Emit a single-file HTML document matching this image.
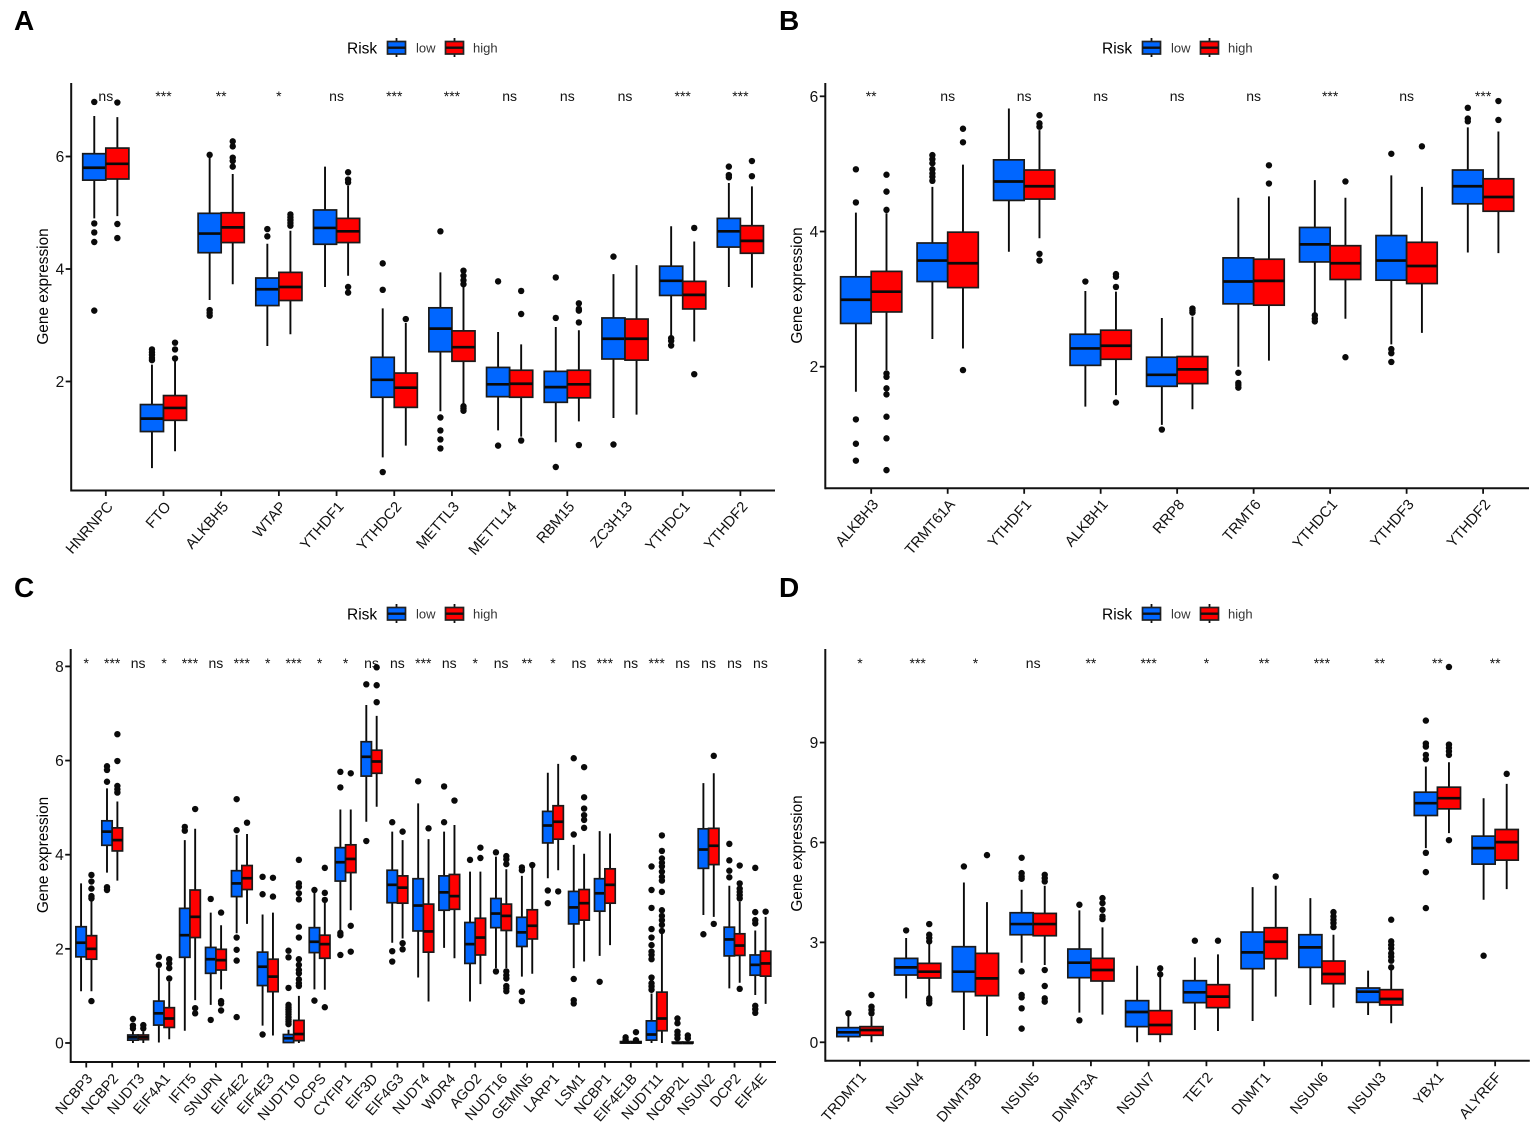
<!DOCTYPE html>
<html lang="en">
<head>
<meta charset="utf-8">
<title>Gene expression by risk group</title>
<style>
html,body{margin:0;padding:0;background:#fff}
svg{display:block;font-family:"Liberation Sans",Arial,sans-serif;filter:blur(0.3px)}
</style>
</head>
<body>
<svg id="figure" width="1535" height="1132" viewBox="0 0 1535 1132" xmlns="http://www.w3.org/2000/svg">
<rect width="1535" height="1132" fill="#fff"/>
<text x="14" y="30" font-size="28" font-weight="700">A</text>
<text x="779" y="30" font-size="28" font-weight="700">B</text>
<text x="14" y="597" font-size="28" font-weight="700">C</text>
<text x="779" y="597" font-size="28" font-weight="700">D</text>

<g transform="translate(0,0)">
<text x="347" y="53.5" font-size="15.5">Risk</text>
<g><path d="M396.5 38V57" stroke="#111" stroke-width="1.8"/><rect x="387.5" y="41.5" width="18" height="12.5" fill="#0066ff" stroke="#222" stroke-width="1.7"/><path d="M387.5 47.7H405.5" stroke="#111" stroke-width="2.4"/></g>
<text x="416" y="52.5" font-size="13" fill="#333">low</text>
<g><path d="M454.5 38V57" stroke="#111" stroke-width="1.8"/><rect x="445.5" y="41.5" width="18" height="12.5" fill="#ff0000" stroke="#222" stroke-width="1.7"/><path d="M445.5 47.7H463.5" stroke="#111" stroke-width="2.4"/></g>
<text x="473" y="52.5" font-size="13" fill="#333">high</text>
</g>
<g transform="translate(755,0)">
<text x="347" y="53.5" font-size="15.5">Risk</text>
<g><path d="M396.5 38V57" stroke="#111" stroke-width="1.8"/><rect x="387.5" y="41.5" width="18" height="12.5" fill="#0066ff" stroke="#222" stroke-width="1.7"/><path d="M387.5 47.7H405.5" stroke="#111" stroke-width="2.4"/></g>
<text x="416" y="52.5" font-size="13" fill="#333">low</text>
<g><path d="M454.5 38V57" stroke="#111" stroke-width="1.8"/><rect x="445.5" y="41.5" width="18" height="12.5" fill="#ff0000" stroke="#222" stroke-width="1.7"/><path d="M445.5 47.7H463.5" stroke="#111" stroke-width="2.4"/></g>
<text x="473" y="52.5" font-size="13" fill="#333">high</text>
</g>
<g transform="translate(0,566)">
<text x="347" y="53.5" font-size="15.5">Risk</text>
<g><path d="M396.5 38V57" stroke="#111" stroke-width="1.8"/><rect x="387.5" y="41.5" width="18" height="12.5" fill="#0066ff" stroke="#222" stroke-width="1.7"/><path d="M387.5 47.7H405.5" stroke="#111" stroke-width="2.4"/></g>
<text x="416" y="52.5" font-size="13" fill="#333">low</text>
<g><path d="M454.5 38V57" stroke="#111" stroke-width="1.8"/><rect x="445.5" y="41.5" width="18" height="12.5" fill="#ff0000" stroke="#222" stroke-width="1.7"/><path d="M445.5 47.7H463.5" stroke="#111" stroke-width="2.4"/></g>
<text x="473" y="52.5" font-size="13" fill="#333">high</text>
</g>
<g transform="translate(755,566)">
<text x="347" y="53.5" font-size="15.5">Risk</text>
<g><path d="M396.5 38V57" stroke="#111" stroke-width="1.8"/><rect x="387.5" y="41.5" width="18" height="12.5" fill="#0066ff" stroke="#222" stroke-width="1.7"/><path d="M387.5 47.7H405.5" stroke="#111" stroke-width="2.4"/></g>
<text x="416" y="52.5" font-size="13" fill="#333">low</text>
<g><path d="M454.5 38V57" stroke="#111" stroke-width="1.8"/><rect x="445.5" y="41.5" width="18" height="12.5" fill="#ff0000" stroke="#222" stroke-width="1.7"/><path d="M445.5 47.7H463.5" stroke="#111" stroke-width="2.4"/></g>
<text x="473" y="52.5" font-size="13" fill="#333">high</text>
</g>

<text transform="translate(48,286.5) rotate(-90)" text-anchor="middle" font-size="15.4">Gene expression</text>
<text transform="translate(802,285.5) rotate(-90)" text-anchor="middle" font-size="15.4">Gene expression</text>
<text transform="translate(48,855) rotate(-90)" text-anchor="middle" font-size="15.4">Gene expression</text>
<text transform="translate(802,853.5) rotate(-90)" text-anchor="middle" font-size="15.4">Gene expression</text>

<g id="panel-a"></g>
<g id="panel-b"></g>
<g id="panel-c"></g>
<g id="panel-d"></g>
</svg>
<script>
/* Box statistics are [q1, median, q3, whiskerLow, whiskerHigh] in expression units. */

/* Panel A */
const aCategories = ["HNRNPC","FTO","ALKBH5","WTAP","YTHDF1","YTHDC2","METTL3","METTL14","RBM15","ZC3H13","YTHDC1","YTHDF2"];
const aSignificance = ["ns","***","**","*","ns","***","***","ns","ns","ns","***","***"];
const aTicks = [2,4,6];
const aLow = [[5.58,5.80,6.05,4.90,6.72],[1.11,1.34,1.59,0.46,2.30],[4.29,4.63,4.99,3.45,6.00],[3.35,3.64,3.84,2.63,4.45],[4.44,4.73,5.05,3.68,5.82],[1.72,2.03,2.43,0.65,3.30],[2.53,2.94,3.31,1.47,3.94],[1.73,1.95,2.25,1.13,2.88],[1.63,1.90,2.18,0.92,2.97],[2.40,2.76,3.13,1.35,3.91],[3.53,3.79,4.05,2.80,4.76],[4.39,4.67,4.90,3.68,5.53]];
const aHigh = [[5.60,5.87,6.15,4.94,6.70],[1.31,1.53,1.75,0.76,2.36],[4.47,4.74,5.00,3.73,5.69],[3.44,3.68,3.94,2.84,4.68],[4.47,4.67,4.90,3.88,5.48],[1.54,1.89,2.15,0.86,3.04],[2.36,2.61,2.90,1.59,3.69],[1.72,1.96,2.20,1.02,2.66],[1.71,1.95,2.20,1.29,2.91],[2.38,2.76,3.11,1.41,4.07],[3.29,3.54,3.78,2.71,4.49],[4.28,4.50,4.77,3.67,5.47]];
const aLowOutliers = [[6.97,4.81,4.65,4.48,3.26],[2.57,2.52,2.47,2.42,2.38],[6.03,3.27,3.22,3.17],[4.71,4.58],[],[4.10,3.63,0.39],[4.67,1.36,1.13,0.97,0.81],[3.78,0.86],[3.85,3.13,0.48],[4.22,0.88],[2.77,2.72,2.64],[5.82,5.67,5.63]];
const aHighOutliers = [[6.96,4.80,4.55],[2.69,2.57,2.41],[6.27,6.18,5.98,5.92,5.82],[4.97,4.92,4.87,4.82,4.77],[5.72,5.59,5.54,3.68,3.58],[3.11],[3.97,3.88,3.80,3.73,1.56,1.52,1.48],[3.61,3.20,0.95],[3.39,3.29,3.26,3.05,0.87],[],[4.73,2.13],[5.92,5.65]];

/* Panel B */
const bCategories = ["ALKBH3","TRMT61A","YTHDF1","ALKBH1","RRP8","TRMT6","YTHDC1","YTHDF3","YTHDF2"];
const bSignificance = ["**","ns","ns","ns","ns","ns","***","ns","***"];
const bTicks = [2,4,6];
const bLow = [[2.64,2.99,3.33,1.63,4.28],[3.26,3.57,3.83,2.41,4.66],[4.46,4.74,5.06,3.70,5.82],[2.02,2.27,2.48,1.41,3.12],[1.71,1.88,2.14,1.14,2.72],[2.93,3.26,3.61,2.00,4.50],[3.55,3.81,4.06,2.79,4.76],[3.28,3.57,3.94,2.33,4.83],[4.41,4.67,4.91,3.69,5.54]];
const bHigh = [[2.81,3.11,3.41,1.95,4.27],[3.17,3.53,3.99,2.27,4.99],[4.48,4.67,4.91,3.90,5.50],[2.11,2.31,2.54,1.58,3.11],[1.75,1.96,2.15,1.37,2.74],[2.91,3.27,3.59,2.09,4.52],[3.29,3.53,3.79,2.71,4.50],[3.23,3.49,3.84,2.50,4.66],[4.30,4.51,4.78,3.68,5.48]];
const bLowOutliers = [[4.92,4.43,1.22,0.86,0.61],[5.13,5.07,5.01,4.92,4.86,4.81,4.75],[],[3.26],[1.07],[1.91,1.76,1.73,1.69],[2.76,2.71,2.67],[5.15,2.26,2.20,2.07],[5.83,5.67,5.63]];
const bHighOutliers = [[4.84,4.59,4.32,1.90,1.85,1.68,1.59,1.26,0.94,0.47],[5.52,5.32,1.95],[5.72,5.60,5.55,3.67,3.57],[3.37,3.33,3.18,1.47],[2.86,2.83,2.80],[4.98,4.71],[4.74,2.14],[5.26],[5.93,5.65]];

/* Panel C */
const cCategories = ["NCBP3","NCBP2","NUDT3","EIF4A1","IFIT5","SNUPN","EIF4E2","EIF4E3","NUDT10","DCPS","CYFIP1","EIF3D","EIF4G3","NUDT4","WDR4","AGO2","NUDT16","GEMIN5","LARP1","LSM1","NCBP1","EIF4E1B","NUDT11","NCBP2L","NSUN2","DCP2","EIF4E"];
const cSignificance = ["*","***","ns","*","***","ns","***","*","***","*","*","ns","ns","***","ns","*","ns","**","*","ns","***","ns","***","ns","ns","ns","ns"];
const cTicks = [0,2,4,6,8];
const cLow = [[1.83,2.13,2.47,1.10,3.39],[4.20,4.49,4.72,3.62,5.41],[0.06,0.12,0.17,0.00,0.24],[0.38,0.63,0.89,0.01,1.59],[1.82,2.29,2.86,0.26,4.31],[1.48,1.78,2.03,0.81,2.77],[3.11,3.39,3.66,2.33,4.42],[1.22,1.62,1.93,0.37,2.73],[0.01,0.10,0.18,0.00,0.28],[1.92,2.15,2.45,1.14,3.24],[3.44,3.84,4.15,2.40,4.96],[5.67,6.08,6.40,4.70,7.18],[2.98,3.36,3.67,2.13,4.49],[2.38,2.92,3.49,1.39,5.09],[2.82,3.20,3.55,2.02,4.49],[1.69,2.10,2.56,0.88,3.64],[2.45,2.75,3.07,1.59,3.96],[2.05,2.35,2.67,1.41,3.55],[4.25,4.62,4.92,3.50,5.74],[2.53,2.88,3.22,1.59,4.21],[2.80,3.18,3.49,1.85,4.50],[0.00,0.01,0.03,0.00,0.03],[0.06,0.18,0.47,0.00,1.05],[0.00,0.00,0.02,0.00,0.02],[3.71,4.11,4.55,2.72,5.52],[1.85,2.20,2.46,1.16,3.34],[1.44,1.66,1.87,1.02,2.39]];
const cHigh = [[1.78,2.00,2.28,1.10,3.04],[4.08,4.31,4.57,3.45,5.13],[0.07,0.12,0.17,0.00,0.24],[0.33,0.52,0.75,0.08,1.30],[2.24,2.68,3.25,0.91,4.55],[1.55,1.76,1.99,1.14,2.50],[3.26,3.50,3.77,2.53,4.44],[1.09,1.41,1.78,0.16,2.77],[0.05,0.19,0.48,0.00,1.00],[1.80,2.10,2.29,1.13,2.98],[3.62,3.91,4.21,2.82,4.96],[5.73,5.98,6.22,5.02,6.95],[2.97,3.30,3.55,2.22,4.31],[1.93,2.37,2.95,0.88,4.33],[2.84,3.12,3.58,1.80,4.63],[1.87,2.24,2.65,1.25,3.64],[2.39,2.70,2.95,1.59,3.69],[2.21,2.49,2.83,1.47,3.75],[4.33,4.70,5.04,3.67,5.93],[2.61,2.97,3.26,1.73,4.02],[2.97,3.36,3.70,2.08,4.45],[0.00,0.01,0.03,0.00,0.03],[0.26,0.52,1.08,0.00,2.33],[0.00,0.00,0.02,0.00,0.02],[3.79,4.19,4.56,2.68,5.73],[1.86,2.07,2.32,1.28,3.00],[1.42,1.69,1.95,0.83,2.68]];
const cLowOutliers = [[],[5.88,5.80,5.55,3.31,3.25],[0.51,0.37,0.31],[1.83,1.66],[4.59,4.51],[3.06,0.49],[5.18,4.52,2.24,1.98,1.75,0.55],[3.53,3.16,0.18],[1.96,1.82,1.17,0.81,0.76,0.71,0.66,0.61,0.55,0.50,0.45,0.40],[3.25,0.90],[5.76,5.43,2.34,2.29,1.87],[7.62,4.29],[4.69,1.95,1.73],[5.56],[5.45,4.69],[3.89],[4.05,1.52],[3.73,3.67,1.09,0.89],[3.24,2.97],[6.05,4.43,1.36,0.91,0.84],[1.30],[0.12,0.06],[3.75,3.25,2.87,2.42,2.24,2.08,1.94,1.87,1.78,1.39,1.27,1.20,1.13],[0.52,0.42,0.24,0.17,0.10],[2.31],[4.23,3.88,3.66,3.52],[3.72,2.78,2.61,2.54,0.79,0.72,0.64]];
const cHighOutliers = [[3.57,3.43,3.28,3.12,3.07,0.89],[6.56,5.99,5.46,5.39,5.32],[0.38,0.31],[1.78,1.69,1.59,1.37],[4.97,0.74,0.63],[2.77,0.89,0.84,0.69],[4.68],[3.51,3.11],[3.89,3.39,3.32,3.18,3.05,2.47,2.24,1.78,1.66,1.55,1.48,1.35,1.27,1.21],[3.72,3.19,3.04,0.76],[5.73,2.49,1.94],[7.98,7.60,7.24],[4.49,2.12,1.99],[4.56],[5.15],[4.15,3.93],[3.97,3.90,3.80,1.52,1.44,1.37,1.21,1.16,1.10],[3.78],[3.22],[5.86,5.22,4.98,4.84,4.74,4.57],[],[0.23,0.06],[4.41,4.08,3.92,3.83,3.75,3.64,3.53,3.45,3.21,2.82,2.70,2.61,2.51,2.38],[0.16,0.10],[6.10,2.53],[3.77,3.39,3.28,3.21,3.14,3.07,1.15],[2.79]];

/* Panel D */
const dCategories = ["TRDMT1","NSUN4","DNMT3B","NSUN5","DNMT3A","NSUN7","TET2","DNMT1","NSUN6","NSUN3","YBX1","ALYREF"];
const dSignificance = ["*","***","*","ns","**","***","*","**","***","**","**","**"];
const dTicks = [0,3,6,9];
const dLow = [[0.17,0.30,0.44,0.02,0.82],[2.02,2.25,2.52,1.32,3.13],[1.52,2.12,2.87,0.37,4.80],[3.23,3.55,3.89,2.39,4.58],[1.94,2.39,2.80,0.89,3.96],[0.47,0.91,1.25,0.00,2.30],[1.19,1.50,1.85,0.37,2.55],[2.21,2.70,3.31,0.64,4.66],[2.25,2.85,3.23,1.12,4.33],[1.20,1.52,1.63,0.82,2.15],[6.81,7.18,7.51,5.83,8.28],[5.35,5.83,6.19,4.28,7.33]];
const dHigh = [[0.21,0.37,0.47,0.00,0.77],[1.93,2.12,2.37,1.37,2.97],[1.40,1.92,2.67,0.19,4.21],[3.20,3.55,3.87,2.32,4.70],[1.84,2.17,2.52,0.83,3.45],[0.24,0.52,0.95,0.00,1.95],[1.04,1.37,1.73,0.34,2.64],[2.51,3.02,3.44,1.37,4.70],[1.76,2.05,2.44,1.04,3.23],[1.12,1.30,1.58,0.57,2.17],[7.01,7.33,7.66,6.28,8.41],[5.47,6.01,6.39,4.60,7.76]];
const dLowOutliers = [[0.87],[3.36],[5.28],[5.54,5.08,4.98,4.91,2.13,1.42,1.35,1.02,0.41],[4.13,0.66],[],[3.05],[],[],[],[9.66,8.97,8.88,8.63,8.50,5.69,5.11,4.03],[2.60]];
const dHighOutliers = [[1.42,1.07,0.97,0.87],[3.55,3.23,3.13,3.03,1.32,1.25,1.17],[5.62],[5.03,4.93,4.83,2.17,1.69,1.32,1.22],[4.33,4.18,3.98,3.78,3.70],[2.22,2.04],[3.05],[4.98],[3.91,3.78,3.68,3.58,3.46],[3.68,3.03,2.92,2.82,2.67,2.57,2.45,2.25],[11.27,8.94,8.84,8.74,8.63,6.07],[8.06]];

const SVG_NS = "http://www.w3.org/2000/svg";
const LOW_FILL = "#0066ff";
const HIGH_FILL = "#ff0000";

function make(parent, tag, attrs) {
  const node = document.createElementNS(SVG_NS, tag);
  for (const key in attrs) node.setAttribute(key, attrs[key]);
  parent.appendChild(node);
  return node;
}

function linearScale(domain, range) {
  return function (v) {
    return range[0] + (v - domain[0]) * (range[1] - range[0]) / (domain[1] - domain[0]);
  };
}

function drawBox(group, stats, outliers, centre, width, fill, x, y) {
  const q1 = stats[0], med = stats[1], q3 = stats[2], wLow = stats[3], wHigh = stats[4];
  const whisker = make(group, "path", {
    d: "M" + centre + " " + y(wHigh) + "V" + y(q3) + "M" + centre + " " + y(q1) + "V" + y(wLow),
    stroke: "#0a0a0a", "stroke-width": 1.9, fill: "none"
  });
  
  
  const box = make(group, "rect", {
    x: centre - width / 2, y: y(q3), width: width, height: Math.max(y(q1) - y(q3), 0.6),
    fill: fill, stroke: "#1a1a1a", "stroke-width": 1.7
  });
  
  
  const median = make(group, "line", {
    x1: centre - width / 2, x2: centre + width / 2, y1: y(med), y2: y(med),
    stroke: "#0a0a0a", "stroke-width": 2.7
  });
  
  
  outliers.forEach(function (v) {
    const dot = make(group, "circle", { cx: centre, cy: y(v), r: 3.2, fill: "#0a0a0a" });
    
    
  });
}

function drawPanel(id, cfg) {
  const root = document.getElementById(id);
  const n = cfg.categories.length;
  const step = (cfg.right - cfg.left) / (n + 0.2);
  const x = function (i) { return cfg.left + (i + 0.6) * step; };
  const y = linearScale(cfg.domain, [cfg.bottom, cfg.top]);
  const boxWidth = step * 0.4;

  const yAxis = make(root, "line", { x1: cfg.left, x2: cfg.left, y1: cfg.top, y2: cfg.bottom + 1, stroke: "#111", "stroke-width": 2 });
  
  
  const xAxis = make(root, "line", { x1: cfg.left, x2: cfg.right, y1: cfg.bottom, y2: cfg.bottom, stroke: "#111", "stroke-width": 2 });
  
  

  cfg.ticks.forEach(function (t) {
    const mark = make(root, "line", { x1: cfg.left - 5.5, x2: cfg.left, y1: y(t), y2: y(t), stroke: "#111", "stroke-width": 1.8 });
    
    
    const label = make(root, "text", { x: cfg.left - 7, y: y(t) + 5.5, "text-anchor": "end", "font-size": 15.5, fill: "#111" });
    label.textContent = t;
    
    
  });

  cfg.categories.forEach(function (name, i) {
    const cx = x(i);
    const mark = make(root, "line", { x1: cx, x2: cx, y1: cfg.bottom, y2: cfg.bottom + 5.5, stroke: "#111", "stroke-width": 1.8 });
    
    

    const label = make(root, "text", {
      transform: "translate(" + (cx + cfg.labelDx) + "," + (cfg.bottom + cfg.labelDy) + ") rotate(" + cfg.labelAngle + ")",
      "text-anchor": "end", "font-size": cfg.labelSize, fill: "#111"
    });
    label.textContent = name;
    
    

    const sig = make(root, "text", { x: cx, y: cfg.sigBaseline, "text-anchor": "middle", "font-size": 14, fill: "#111" });
    sig.textContent = cfg.significance[i];
    
    

    const gene = make(root, "g", {});
    
    
    drawBox(gene, cfg.low[i], cfg.lowOutliers[i], cx - boxWidth / 2, boxWidth, LOW_FILL, x, y);
    drawBox(gene, cfg.high[i], cfg.highOutliers[i], cx + boxWidth / 2, boxWidth, HIGH_FILL, x, y);
  });
}

drawPanel("panel-a", {
  categories: aCategories, significance: aSignificance, ticks: aTicks,
  low: aLow, high: aHigh, lowOutliers: aLowOutliers, highOutliers: aHighOutliers,
  left: 71.2, right: 775, bottom: 490.5, top: 83, domain: [0.062, 7.307],
  sigBaseline: 101, labelAngle: -49, labelSize: 14.8, labelDx: 8, labelDy: 16.5
});
drawPanel("panel-b", {
  categories: bCategories, significance: bSignificance, ticks: bTicks,
  low: bLow, high: bHigh, lowOutliers: bLowOutliers, highOutliers: bHighOutliers,
  left: 825.3, right: 1529, bottom: 488.3, top: 83, domain: [0.201, 6.197],
  sigBaseline: 101, labelAngle: -49, labelSize: 14.8, labelDx: 8, labelDy: 16.5
});
drawPanel("panel-c", {
  categories: cCategories, significance: cSignificance, ticks: cTicks,
  low: cLow, high: cHigh, lowOutliers: cLowOutliers, highOutliers: cHighOutliers,
  left: 70.7, right: 776, bottom: 1062, top: 649, domain: [-0.404, 8.37],
  sigBaseline: 668, labelAngle: -49, labelSize: 14.4, labelDx: 7, labelDy: 17
});
drawPanel("panel-d", {
  categories: dCategories, significance: dSignificance, ticks: dTicks,
  low: dLow, high: dHigh, lowOutliers: dLowOutliers, highOutliers: dHighOutliers,
  left: 825.3, right: 1529.8, bottom: 1060.7, top: 649, domain: [-0.553, 11.81],
  sigBaseline: 668, labelAngle: -49, labelSize: 14.6, labelDx: 7, labelDy: 17
});
</script>
</body>
</html>
